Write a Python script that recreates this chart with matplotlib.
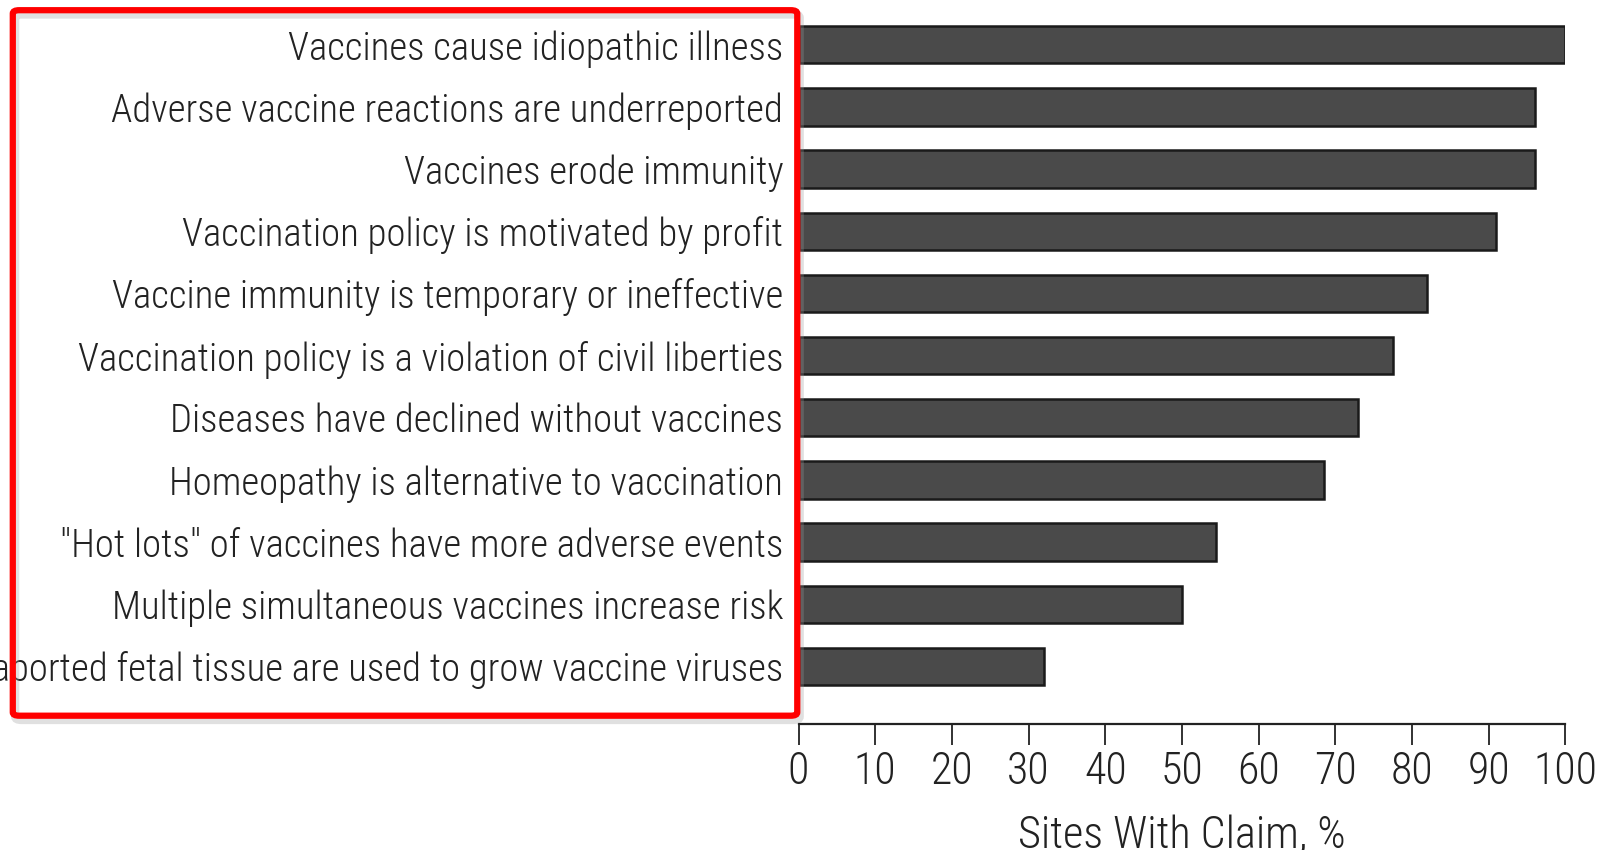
import numpy as np
import matplotlib.pyplot as plt
from matplotlib.patches import FancyBboxPatch
from matplotlib import font_manager

claims = [
    "Vaccines cause idiopathic illness",
    "Adverse vaccine reactions are underreported",
    "Vaccines erode immunity",
    "Vaccination policy is motivated by profit",
    "Vaccine immunity is temporary or ineffective",
    "Vaccination policy is a violation of civil liberties",
    "Diseases have declined without vaccines",
    "Homeopathy is alternative to vaccination",
    "\"Hot lots\" of vaccines have more adverse events",
    "Multiple simultaneous vaccines increase risk",
    "Cells from aborted fetal tissue are used to grow vaccine viruses",
]
pct = [100, 96, 96, 91, 82, 77.5, 73, 68.5, 54.5, 50, 32]
xticks = [0, 10, 20, 30, 40, 50, 60, 70, 80, 90, 100]

# pick a narrow sans face, similar to the condensed Helvetica of the original
names = {f.name for f in font_manager.fontManager.ttflist}
fam = 'DejaVu Sans'
for cand in ['Roboto Condensed', 'Archivo Narrow', 'Liberation Sans Narrow', 'PT Sans Narrow', 'Asap Condensed']:
    if cand in names:
        fam = cand
        break
plt.rcParams['font.family'] = [fam, 'DejaVu Sans']
plt.rcParams['font.weight'] = 'light'
plt.rcParams['axes.labelweight'] = 'light'

fig = plt.figure(figsize=(15.99, 8.5), dpi=100)
ax = fig.add_axes([0.4994, 0.148, 0.4796, 0.852])

# fit the label size so the second claim is about as wide as in the original (~670 px)
r = fig.canvas.get_renderer()
probe = fig.text(0, 0, claims[1], fontsize=20)
w20 = probe.get_window_extent(renderer=r).width
probe.remove()
fs = 20 * 670 / w20

y = np.arange(len(claims))[::-1]
ax.barh(y, pct, height=0.6, color='#4a4a4a', edgecolor='#1a1a1a', linewidth=1.8)

ax.set_xlim(0, 100)
ax.set_ylim(-0.93, 10.72)
ax.set_xticks(xticks)
ax.set_xticklabels([str(t) for t in xticks], fontsize=fs * 1.13, color='#222222')
ax.set_yticks(y)
ax.set_yticklabels(claims, fontsize=fs, color='#222222')
ax.tick_params(axis='y', length=0, pad=11)
ax.tick_params(axis='x', direction='out', length=15, width=1.3, pad=4, color='#222222')
for s in ['top', 'right', 'left']:
    ax.spines[s].set_visible(False)
ax.spines['bottom'].set_linewidth(1.6)
ax.spines['bottom'].set_color('#222222')
ax.set_xlabel("Sites With Claim, %", fontsize=fs * 1.14, color='#222222',
              labelpad=15, fontweight='light')

# red highlight box with soft shadow
shadow = FancyBboxPatch((0.0095, 0.153), 0.4906, 0.83, boxstyle="round,pad=0,rounding_size=0.004",
                        transform=fig.transFigure, fill=False, edgecolor='#999999',
                        linewidth=6, alpha=0.3)
fig.patches.append(shadow)
box = FancyBboxPatch((0.008, 0.158), 0.4906, 0.83, boxstyle="round,pad=0,rounding_size=0.004",
                     transform=fig.transFigure, fill=False, edgecolor='#ff0000', linewidth=4.5)
fig.patches.append(box)

fig.savefig("out.png", dpi=100)
